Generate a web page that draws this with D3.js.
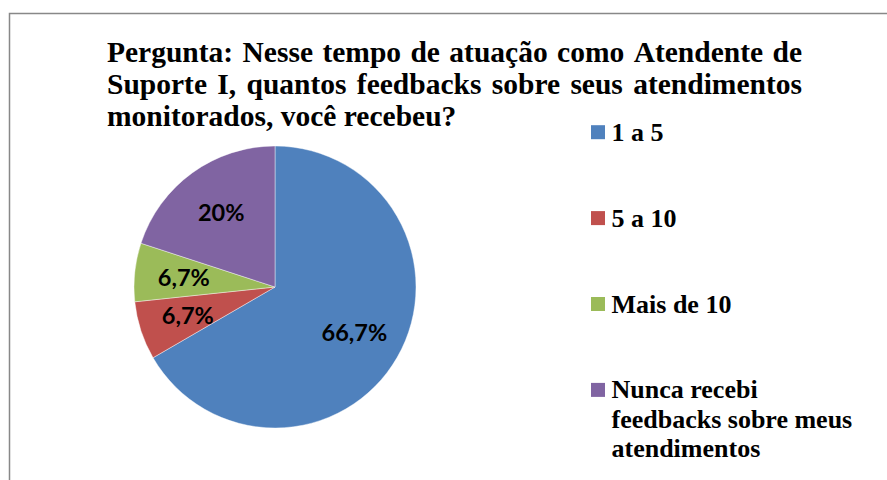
<!DOCTYPE html>
<html>
<head>
<meta charset="utf-8">
<script src="https://cdn.jsdelivr.net/npm/d3@7"></script>
<style>
  body { margin: 0; background: #fff; }
  svg { display: block; }
</style>
</head>
<body>
<svg id="chart" width="887" height="480"></svg>
<script>
// data
var categories = ['1 a 5', '5 a 10', 'Mais de 10', 'Nunca recebi feedbacks sobre meus atendimentos']
var values = [66.7, 6.7, 6.7, 20]
var valueLabels = ['66,7%', '6,7%', '6,7%', '20%']
var legendLines = [['1 a 5'], ['5 a 10'], ['Mais de 10'], ['Nunca recebi', 'feedbacks sobre meus', 'atendimentos']]
var titleLines = [
  'Pergunta: Nesse tempo de atuação como Atendente de',
  'Suporte I, quantos feedbacks sobre seus atendimentos',
  'monitorados, você recebeu?'
]
var colors = ['#4F81BD', '#C0504D', '#9BBB59', '#8064A2']

var svg = d3.select('#chart')

// chart border (cut off at right and bottom like the original)
svg.append('rect')
   .attr('x', 9.5)
   .attr('y', 13.5)
   .attr('width', 1000)
   .attr('height', 600)
   .style('fill', 'none')
   .style('stroke', '#888888')
   .style('stroke-width', 1.5)

// title, justified except last line
var titleLeft = 107
var titleRight = 802
var titleTop = 61.5
var titleStep = 32.3
var titleSize = 29.5
var title = svg.append('g')
titleLines.forEach(function (line, i) {
  var y = titleTop + i * titleStep
  var words = line.split(' ')
  var last = i === titleLines.length - 1
  var nodes = words.map(function (w) {
    return title.append('text')
                .attr('y', y)
                .attr('font-family', '"Liberation Serif", "Times New Roman", serif')
                .attr('font-weight', 'bold')
                .attr('font-size', titleSize)
                .style('fill', '#000')
                .text(w)
  })
  var widths = nodes.map(function (n) { return n.node().getComputedTextLength() })
  var total = d3.sum(widths)
  var gap = last ? titleSize * 0.25 : (titleRight - titleLeft - total) / (words.length - 1)
  var x = titleLeft
  nodes.forEach(function (n, j) {
    n.attr('x', x)
    x += widths[j] + gap
  })
})

// pie
var cx = 275
var cy = 287
var radius = 141

var pie = d3.pie().sort(null).value(function (d) { return d })
var arc = d3.arc().innerRadius(0).outerRadius(radius)
var labelArc = d3.arc().innerRadius(radius * 0.65).outerRadius(radius * 0.65)

var pieG = svg.append('g')
              .attr('transform', 'translate(' + cx + ',' + cy + ')')

var arcs = pie(values)

pieG.selectAll('path')
    .data(arcs)
    .enter()
    .append('path')
    .attr('d', arc)
    .style('fill', function (d, i) { return colors[i] })
    .style('stroke', '#ffffff')
    .style('stroke-width', 0.6)
    .style('stroke-opacity', 0.7)

pieG.selectAll('text')
    .data(arcs)
    .enter()
    .append('text')
    .attr('transform', function (d) { return 'translate(' + labelArc.centroid(d) + ')' })
    .attr('text-anchor', 'middle')
    .attr('dy', '0.36em')
    .attr('font-family', 'Lato, "Open Sans", sans-serif')
    .attr('font-weight', 'bold')
    .attr('font-size', 23.5)
    .style('fill', '#000')
    .text(function (d, i) { return valueLabels[i] })

// legend
var legend = svg.append('g').attr('id', 'legend')
var legX = 591
var legTop = 140.7
var legStep = 85.9
var lineStep = 29.5
var size = 14

categories.forEach(function (item, i) {
  var base = legTop + i * legStep
  legend.append('rect')
        .attr('x', legX)
        .attr('y', base - 15.5)
        .attr('width', size)
        .attr('height', size)
        .style('fill', colors[i])

  var t = legend.append('text')
                .attr('x', legX + 20.5)
                .attr('y', base)
                .attr('font-family', '"Liberation Serif", "Times New Roman", serif')
                .attr('font-weight', 'bold')
                .attr('font-size', 26)
                .style('fill', '#000')
  legendLines[i].forEach(function (l, j) {
    t.append('tspan')
     .attr('x', legX + 20.5)
     .attr('y', base + j * lineStep)
     .text(l)
  })
  t.append('title').text(item)
})
</script>
</body>
</html>
